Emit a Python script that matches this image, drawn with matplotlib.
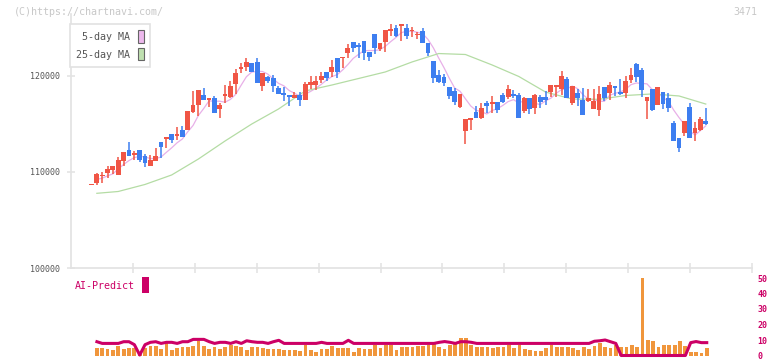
import numpy as np
import pandas as pd
import matplotlib
matplotlib.use('Agg')
import matplotlib.pyplot as plt
from matplotlib.patches import Patch, Rectangle

# 3471 daily candles, index 0 .. 115
opens = [108620, 108900, 109550, 109860, 110210, 109690, 111180, 112290, 111800, 112290,
         111670, 110620, 111150, 113160, 113470, 113960, 113750, 114370, 114370, 116280,
         116980, 118020, 117500, 117670, 116560, 117920, 117850, 119170, 120750, 120900,
         121390, 121460, 118960, 119860, 119760, 118780, 118260, 118020, 117740, 118020,
         117500, 119060, 119060, 119580, 120450, 120450, 121910, 121870, 122430, 123510,
         123230, 123650, 122530, 124380, 122780, 123570, 124690, 125000, 125210, 125000,
         124670, 124220, 124690, 123470, 121560, 120100, 119930, 118890, 118440, 116740,
         114270, 115420, 116220, 115590, 117220, 117090, 117330, 118020, 117780, 118130,
         118020, 116350, 117670, 116700, 117850, 117780, 118370, 118820, 118610, 119690,
         117150, 118200, 117500, 117430, 116530, 116460, 118890, 118260, 118960, 118370,
         118200, 119580, 121250, 120630, 117430, 118650, 116980, 118300, 117670, 115070,
         113510, 114100, 116800, 114030, 114370, 115310]
highs = [108680, 109930, 109970, 110620, 110620, 111600, 112080, 113120, 112220, 112290,
         111840, 111770, 112460, 113160, 113680, 113960, 114720, 114830, 116350, 118470,
         118540, 118780, 117670, 117920, 117150, 119060, 119510, 120730, 121320, 121840,
         121390, 121840, 120280, 120030, 120100, 118990, 118890, 118020, 118370, 118370,
         119380, 120000, 120000, 120450, 120450, 121670, 121910, 122010, 123300, 123510,
         123400, 123650, 122530, 124380, 123400, 124790, 125390, 125310, 125390, 125420,
         125070, 124620, 124970, 123470, 121560, 120630, 120180, 118890, 118720, 118130,
         115520, 115660, 116870, 117150, 117430, 117920, 117330, 118260, 119060, 118540,
         118200, 117780, 117670, 118130, 118020, 118440, 119060, 119060, 120520, 119860,
         118960, 118610, 118720, 118610, 118610, 118960, 118890, 119340, 118960, 119690,
         120030, 120870, 121390, 120800, 117850, 118650, 118820, 118300, 118200, 115310,
         113510, 115310, 117150, 115240, 115760, 116700]
lows = [108620, 108650, 108880, 109410, 109760, 109690, 110620, 111670, 111250, 111080,
        110520, 110620, 111150, 111490, 112540, 113050, 113330, 113680, 114370, 116180,
        115830, 117500, 116800, 116180, 115580, 117150, 117670, 118130, 120340, 120520,
        120450, 119300, 118470, 119240, 118370, 118130, 117400, 116870, 117670, 116910,
        117500, 118650, 118540, 119240, 119480, 119930, 119830, 120870, 121910, 122500,
        121910, 121670, 121560, 122260, 122570, 122530, 124200, 124100, 123680, 123850,
        124030, 123820, 123400, 122080, 119240, 119240, 118960, 117570, 116980, 116670,
        112920, 114370, 115660, 115520, 116110, 116110, 116180, 117220, 117600, 117670,
        115590, 116110, 116040, 116040, 116700, 116980, 117780, 117850, 118020, 117670,
        116980, 116870, 115940, 117330, 116530, 115870, 117400, 117500, 117950, 118020,
        117740, 119240, 119410, 117850, 115520, 116350, 116980, 116560, 116280, 113230,
        112120, 113750, 113580, 113230, 114270, 114900]
closes = [108680, 109760, 109650, 110310, 110620, 111250, 112080, 111670, 111880, 111250,
          110970, 111250, 111670, 112640, 113680, 113330, 113850, 113680, 116350, 116980,
          118540, 117500, 117670, 116180, 116980, 118020, 118960, 120340, 120850, 121460,
          120450, 119300, 120280, 119510, 118960, 118130, 118020, 117850, 118020, 117500,
          119170, 119410, 119510, 120030, 119760, 120970, 120450, 121910, 122890, 122950,
          123060, 122360, 122010, 122880, 123400, 124790, 124790, 124200, 125390, 124200,
          124720, 124290, 123470, 122360, 119830, 119410, 119240, 117920, 117330, 118130,
          115520, 115490, 115660, 116630, 116910, 117330, 116460, 117330, 118650, 117920,
          115590, 117670, 116530, 118020, 117330, 117500, 119060, 119060, 120000, 117670,
          118960, 117740, 115940, 117670, 117400, 118130, 117670, 119060, 118720, 118130,
          119480, 120100, 119930, 118540, 117850, 116460, 118820, 117050, 116700, 113230,
          112530, 115310, 113580, 114620, 115520, 115000]

# 25-day MA as drawn (it starts with history that is off the chart)
ma25_at = [1, 5, 10, 15, 20, 25, 30, 35, 40, 45, 50, 55, 60, 65, 70, 75, 80, 85,
           90, 95, 100, 105, 110, 115]
ma25 = [107780, 107970, 108700, 109690, 111350, 113230, 115000, 116560, 118440,
        119060, 119740, 120420, 121460, 122340, 122240, 121150, 119950, 118330,
        117600, 117570, 117970, 118130, 117920, 117080]

# lower panel, index 1 .. 115
volume = [4.9, 4.7, 4.0, 3.4, 6.4, 4.0, 4.7, 4.9, 2.1, 4.9,
          6.2, 6.4, 4.0, 7.9, 3.4, 5.1, 5.3, 5.5, 6.4, 9.1,
          6.2, 4.0, 5.3, 4.2, 5.5, 6.6, 6.2, 5.3, 3.4, 5.7,
          5.5, 5.1, 4.0, 4.0, 4.0, 3.4, 3.4, 3.4, 2.8, 7.0,
          3.4, 2.5, 4.0, 4.0, 6.4, 4.7, 4.7, 4.7, 2.1, 4.7,
          4.0, 4.0, 6.6, 4.7, 6.6, 7.0, 3.6, 5.5, 5.7, 5.3,
          6.2, 6.4, 7.0, 8.9, 5.3, 4.0, 7.0, 7.9, 11.0, 11.0,
          7.0, 5.3, 5.3, 5.3, 4.9, 5.3, 5.3, 7.0, 4.7, 7.0,
          4.0, 3.4, 2.8, 2.8, 4.7, 7.0, 5.3, 5.3, 5.7, 4.9,
          3.4, 5.3, 4.0, 6.4, 7.9, 5.3, 4.7, 7.0, 5.3, 5.7,
          6.8, 5.7, 50.0, 10.0, 9.1, 5.3, 6.6, 7.0, 6.6, 9.1,
          6.4, 2.1, 2.5, 1.9, 4.9]
ai_predict = [8.9, 7.8, 7.8, 7.8, 7.8, 8.9, 8.9, 7.0, 0.3, 7.0,
              8.5, 8.9, 7.8, 8.5, 8.5, 7.8, 8.9, 8.9, 10.4, 10.4,
              10.4, 8.9, 7.8, 8.5, 8.5, 7.8, 8.9, 7.8, 9.5, 8.9,
              8.5, 8.5, 7.8, 8.9, 9.8, 7.8, 7.8, 7.8, 7.8, 7.8,
              7.8, 7.8, 8.5, 7.8, 7.8, 7.8, 7.8, 9.8, 7.8, 7.8,
              7.8, 7.8, 7.8, 7.8, 7.8, 7.8, 7.8, 7.8, 7.8, 7.8,
              7.8, 7.8, 7.8, 7.8, 8.5, 9.0, 8.5, 7.8, 8.9, 8.9,
              8.5, 7.8, 7.8, 7.8, 7.8, 7.8, 7.8, 7.8, 7.8, 7.8,
              7.8, 7.8, 7.8, 7.8, 7.8, 7.8, 7.8, 7.8, 7.8, 7.8,
              7.8, 7.8, 7.8, 9.2, 9.5, 10.0, 8.9, 7.8, 0, 0,
              0, 0, 0, 0, 0, 0, 0, 0, 0, 0,
              0, 8.3, 9.0, 8.3, 8.3]

tick_pos = [15, 25, 35, 45, 55, 65, 75, 85, 95, 105, 115]
tick_labels = ['11/6', '11/20', '12/5', '12/19', '1/7', '1/22', '2/5', '2/20', '3/9', '3/24', '4/7']

plt.rcParams['font.family'] = ['DejaVu Sans Mono']

W, H = 772, 361
fig = plt.figure(figsize=(W / 100, H / 100), dpi=100)

def box(l, t, r, b):
    return [l / W, 1 - b / H, (r - l) / W, (b - t) / H]

AXL, AXR = 70.7, 752
ymin, ymax = 100000, 126500
top_px = 268 - (ymax - ymin) / 10000 * 96
ax = fig.add_axes(box(AXL, top_px, AXR, 268))
ax2 = fig.add_axes(box(AXL, 278, AXR, 355.5))

x = np.arange(len(closes))
o = np.array(opens); c = np.array(closes)
up = c >= o
cols = np.where(up, '#f05545', '#3d7ef0')
bottom = np.minimum(o, c)
height = np.maximum(np.abs(c - o), 160)

ma5 = pd.Series(closes).rolling(5, min_periods=1).mean()
ax.plot(x[1:], ma5[1:], color='#e8b0e8', lw=0.9, zorder=1)
ax.plot(ma25_at, ma25, color='#b4dca4', lw=0.9, zorder=1)
ax.vlines(x, lows, highs, colors=cols, lw=1.1, zorder=2)
ax.bar(x, height, bottom=bottom, width=0.9, color=cols, linewidth=0, zorder=3)

ax.set_xlim(-3.9, 123.46)
ax.set_ylim(ymin, ymax)
for s in ['top', 'right']:
    ax.spines[s].set_visible(False)
for s in ['left', 'bottom']:
    ax.spines[s].set_color('#e2e2e2')
    ax.spines[s].set_linewidth(1.2)

ax.set_yticks([100000, 110000, 120000])
ax.set_yticklabels(['100000', '110000', '120000'])
ax.tick_params(axis='y', direction='inout', length=6, width=1.1, color='#e2e2e2',
               labelcolor='#555555', labelsize=6, pad=4.8)
ax.set_xticks(tick_pos)
ax.set_xticklabels(tick_labels)
ax.tick_params(axis='x', which='major', length=0, labelcolor='#555555', labelsize=6, pad=8)
ax.set_xticks(np.arange(7.76, 124, 11.59), minor=True)
ax.tick_params(axis='x', which='minor', direction='inout', length=6.5, width=1.1, color='#e2e2e2')

handles = [Patch(facecolor='#ecb8ec', edgecolor='#666666', lw=0.8),
           Patch(facecolor='#bfe0b0', edgecolor='#666666', lw=0.8)]
leg = ax.legend(handles, ['5-day MA', '25-day MA'], loc='upper left',
                bbox_to_anchor=(70 / W, 1 - 24 / H), bbox_transform=fig.transFigure,
                markerfirst=False, fontsize=7.2, handlelength=0.6, handleheight=1.5,
                handletextpad=0.7, labelspacing=0.55, borderpad=0.65, borderaxespad=0,
                fancybox=False, edgecolor='#e2e2e2', framealpha=1)
leg.get_frame().set_linewidth(1.2)
for t in leg.get_texts():
    t.set_color('#555555')

# lower panel
xv = np.arange(1, len(closes))
ax2.bar(xv, volume, width=0.7, color='#f0963c', linewidth=0)
ax2.plot(xv, ai_predict, color='#cc0066', lw=2.2, clip_on=False, zorder=3)
ax2.set_xlim(-3.9, 123.46)
ax2.set_ylim(0, 50)
for s in ax2.spines.values():
    s.set_visible(False)
ax2.set_xticks([])
ax2.yaxis.tick_right()
ax2.set_yticks(range(0, 51, 10))
ax2.tick_params(axis='y', length=0, pad=3.7, labelsize=6, labelcolor='#cc0066')
for t in ax2.get_yticklabels():
    t.set_fontweight('bold')

fig.text(75 / W, 1 - 286 / H, 'AI-Predict', color='#cc0066', fontsize=7.2, va='center')
fig.patches.append(Rectangle((142.3 / W, 1 - 292.7 / H), 6.4 / W, 15.7 / H,
                             transform=fig.transFigure, facecolor='#cc0066', edgecolor='none'))

fig.text(14 / W, 1 - 12 / H, '(C)https://chartnavi.com/', color='#c8c8c8', fontsize=7.2, va='center')
fig.text(757 / W, 1 - 12 / H, '3471', color='#c8c8c8', fontsize=7.2, va='center', ha='right')

fig.savefig('out.png', dpi=100)
